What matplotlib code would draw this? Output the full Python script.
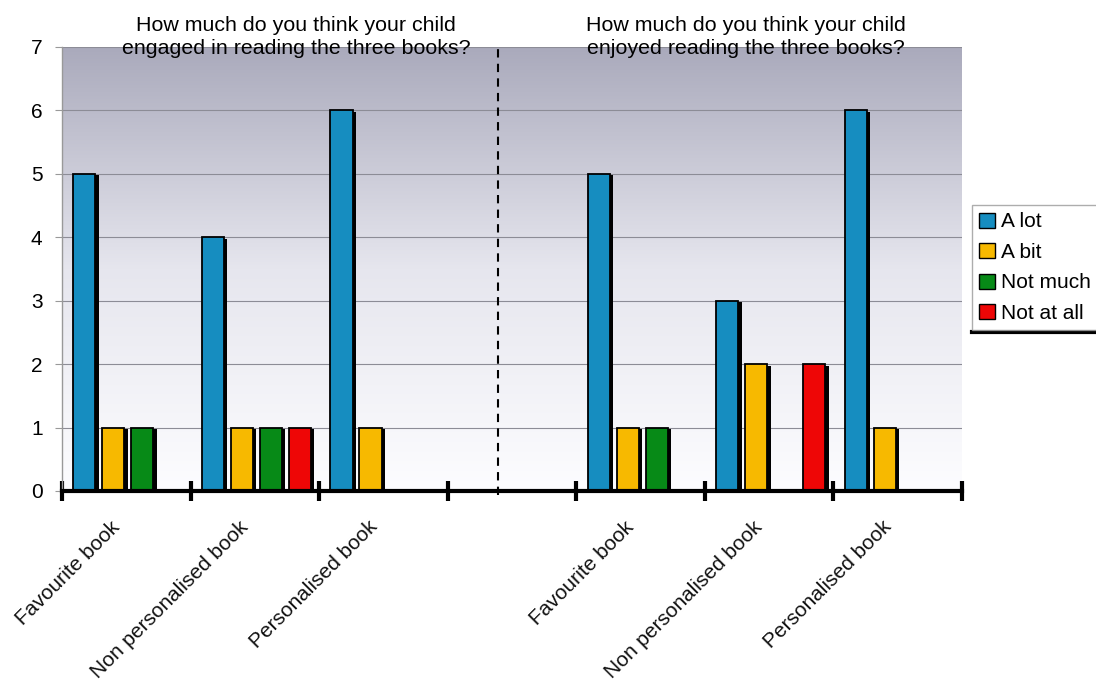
import numpy as np
import matplotlib.pyplot as plt
import matplotlib.patheffects as pe
import matplotlib.transforms as mtransforms
from matplotlib.patches import Patch
from matplotlib.lines import Line2D
from matplotlib.colors import LinearSegmentedColormap

plt.rcParams['font.family'] = ['Liberation Sans', 'DejaVu Sans']

# data
books = ['Favourite book', 'Non personalised book', 'Personalised book']
series = ['A lot', 'A bit', 'Not much', 'Not at all']
colors = ['#168dc0', '#f7b900', '#078a17', '#ee0606']

engaged_a_lot = [5, 4, 6]
engaged_a_bit = [1, 1, 1]
engaged_not_much = [1, 1, 0]
engaged_not_at_all = [0, 1, 0]

enjoyed_a_lot = [5, 3, 6]
enjoyed_a_bit = [1, 2, 1]
enjoyed_not_much = [1, 0, 0]
enjoyed_not_at_all = [0, 2, 0]

title_left = 'How much do you think your child\nengaged in reading the three books?'
title_right = 'How much do you think your child\nenjoyed reading the three books?'

# one empty slot between the two questions
slot_labels = books + [''] + books
engaged = [engaged_a_lot, engaged_a_bit, engaged_not_much, engaged_not_at_all]
enjoyed = [enjoyed_a_lot, enjoyed_a_bit, enjoyed_not_much, enjoyed_not_at_all]
slot_values = [l + [0] + r for l, r in zip(engaged, enjoyed)]

fig = plt.figure(figsize=(10.96, 6.84), dpi=100)
ax = fig.add_axes([0.0566, 0.2822, 0.8211, 0.6491])

n_slots = len(slot_labels)
ax.set_xlim(0, n_slots)
ax.set_ylim(0, 7)

# gradient background (grey at top to white at bottom)
grad_cmap = LinearSegmentedColormap.from_list('bg', ['#fdfdff', '#e6e6ee', '#aaaabc'])
grad = np.linspace(0, 1, 256).reshape(-1, 1)
ax.imshow(grad, aspect='auto', cmap=grad_cmap, origin='lower',
          extent=[0, n_slots, 0, 7], zorder=0)

for yv in range(1, 8):
    ax.axhline(yv, color='#8c8c96', linewidth=0.8, zorder=1)

bar_w = 0.172
step = 0.2255
shadow = [pe.SimplePatchShadow(offset=(2.5, -1), shadow_rgbFace='black', alpha=1), pe.Normal()]
for j, (name, vals) in enumerate(zip(series, slot_values)):
    xs = [i + 0.088 + j * step for i in range(n_slots)]
    for x, v in zip(xs, vals):
        if v == 0:
            continue
        ax.bar(x, v, width=bar_w, align='edge', color=colors[j], edgecolor='black',
               linewidth=1.3, zorder=3, path_effects=shadow)

# dashed separator between the two questions
ax.axvline(3.39, ymin=-0.01, ymax=1, color='black', linestyle=(0, (4, 3)),
           linewidth=1.5, zorder=4, clip_on=False)

for s in ['top', 'right']:
    ax.spines[s].set_visible(False)
ax.spines['left'].set_color('#999999')
ax.spines['left'].set_linewidth(1)
ax.spines['bottom'].set_linewidth(3)
ax.spines['bottom'].set_zorder(5)

ax.set_yticks(range(0, 8))
ax.tick_params(axis='y', length=5, color='#999999', labelsize=15, pad=9)

ax.set_xticks(range(n_slots + 1))
ax.set_xticklabels([])
ax.tick_params(axis='x', which='major', direction='inout', length=14, width=3, color='black')
ax.set_xticks([i + 0.5 for i in range(n_slots)], minor=True)
ax.set_xticklabels(slot_labels, minor=True, rotation=45, ha='right', va='top',
                   rotation_mode='anchor', fontsize=15, color='#111111')
ax.tick_params(axis='x', which='minor', length=0, pad=19)
shift = mtransforms.ScaledTranslation(-16 / 100, 0, fig.dpi_scale_trans)
for lbl in ax.get_xticklabels(minor=True):
    lbl.set_transform(lbl.get_transform() + shift)

ax.text(1.82, 1.023, title_left, transform=ax.get_xaxis_transform(), ha='center',
        va='center', fontsize=15.4, linespacing=1.3, zorder=6)
ax.text(5.32, 1.023, title_right, transform=ax.get_xaxis_transform(), ha='center',
        va='center', fontsize=15.4, linespacing=1.3, zorder=6)

handles = [Patch(facecolor=c, edgecolor='black', linewidth=1) for c in colors]
leg = fig.legend(handles, series, loc='upper left', bbox_to_anchor=(0.887, 0.70),
                 fontsize=15, frameon=True, fancybox=False, handlelength=0.75,
                 handleheight=0.75, handletextpad=0.3, labelspacing=0.55,
                 borderpad=0.35, borderaxespad=0)
leg.get_frame().set_edgecolor('#999999')
leg.get_frame().set_linewidth(1)

# thick dark line under the legend box
fig.canvas.draw()
bb = leg.get_window_extent().transformed(fig.transFigure.inverted())
fig.add_artist(Line2D([bb.x0, bb.x1], [bb.y0 - 0.003, bb.y0 - 0.003],
                      transform=fig.transFigure, color='black', linewidth=3))

fig.savefig('out.png', dpi=100)
